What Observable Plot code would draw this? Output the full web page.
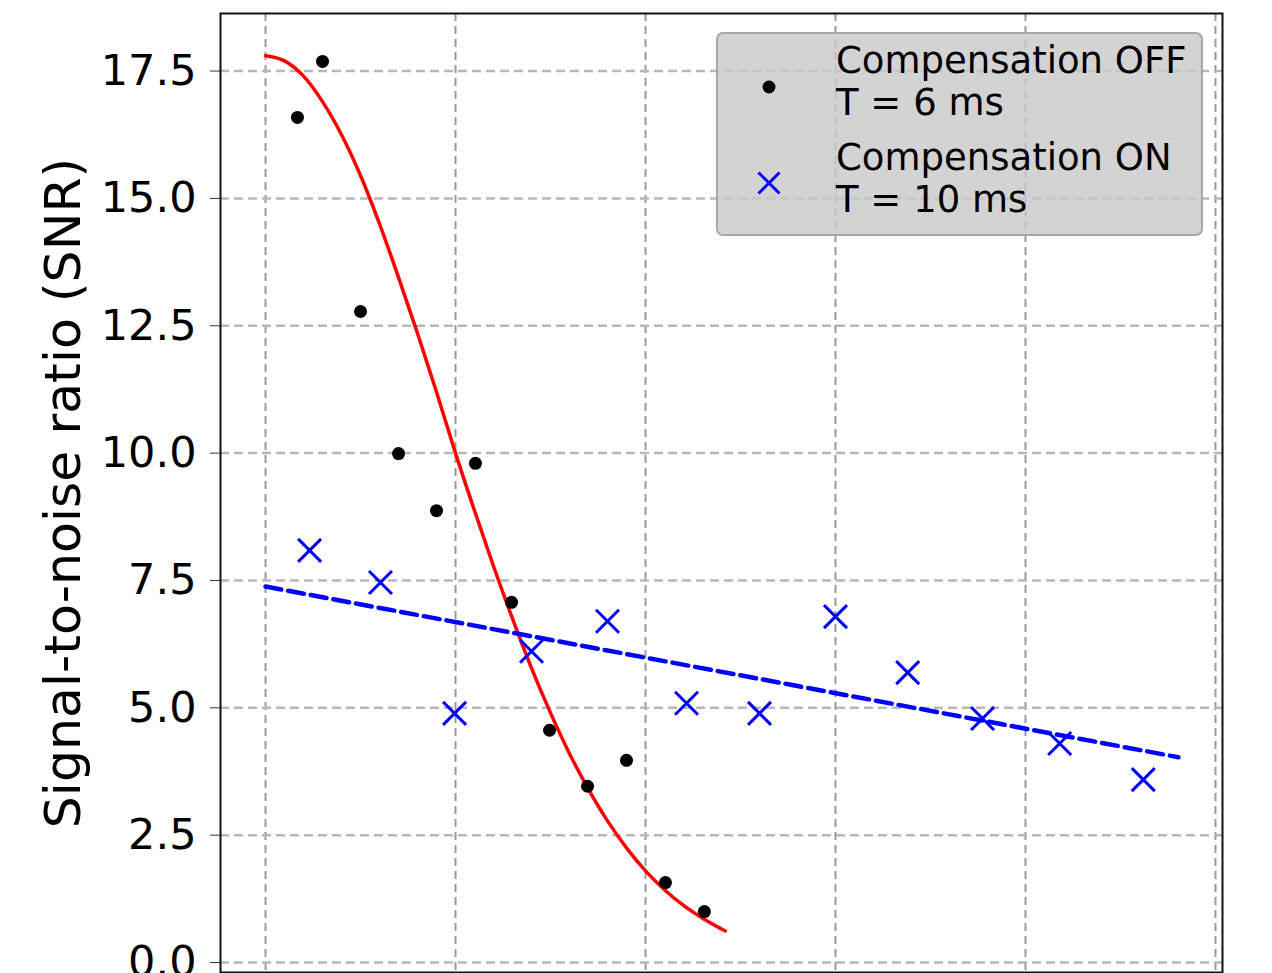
<!DOCTYPE html>
<html><head><meta charset="utf-8">
<script src="https://cdn.jsdelivr.net/npm/d3@7"></script>
<script src="https://cdn.jsdelivr.net/npm/@observablehq/plot@0.6"></script>
<style>
html,body{margin:0;padding:0;background:#fff;overflow:hidden;}
#wrap{position:relative;width:1272px;height:973px;overflow:hidden;}
#wrap svg{display:block;}
.legend{position:absolute;left:716px;top:32px;width:487px;height:204px;box-sizing:border-box;background:rgba(200,200,200,0.8);border:2px solid #a8a8a8;border-radius:7px;font-family:"DejaVu Sans";font-size:37px;color:#000;}
.entry{position:absolute;left:118px;line-height:42px;white-space:nowrap;}
.mk{position:absolute;}
</style></head><body><div id="wrap"></div>
<script>
// Compensation OFF, T = 6 ms (black dots)
const offX = [0.168, 0.3, 0.5, 0.7, 0.9, 1.105, 1.295, 1.495, 1.695, 1.9, 2.105, 2.31];
const offY = [16.59, 17.69, 12.78, 9.99, 8.87, 9.80, 7.07, 4.56, 3.46, 3.97, 1.57, 1.00];
// Compensation ON, T = 10 ms (blue crosses)
const onX = [0.232, 0.605, 0.995, 1.4, 1.8, 2.216, 2.6, 3.0, 3.38, 3.774, 4.18, 4.62];
const onY = [8.09, 7.46, 4.89, 6.11, 6.70, 5.09, 4.89, 6.79, 5.69, 4.79, 4.30, 3.59];
// fitted curve for OFF (red)
const fitOffX = [0, 0.1, 0.2, 0.3, 0.4, 0.5, 0.6, 0.7, 0.8, 0.9, 1.0, 1.1, 1.2, 1.3, 1.4, 1.5, 1.6, 1.7, 1.8, 1.9, 2.0, 2.1, 2.2, 2.3, 2.42];
const fitOffY = [17.8, 17.7, 17.4, 16.9, 16.25, 15.45, 14.5, 13.45, 12.35, 11.2, 10.0, 8.87, 7.78, 6.75, 5.78, 4.9, 4.1, 3.4, 2.78, 2.25, 1.8, 1.43, 1.12, 0.87, 0.62];
// fitted line for ON (blue dashed)
const fitOnX = [0, 4.805];
const fitOnY = [7.38, 4.03];
const yTicks = [0, 2.5, 5, 7.5, 10, 12.5, 15, 17.5];
const xTicks = [0, 1, 2, 3, 4, 5];
const yLabel = "Signal-to-noise ratio (SNR)";
const legendOff = ["Compensation OFF", "T = 6 ms"];
const legendOn = ["Compensation ON", "T = 10 ms"];

const off = offX.map((x, i) => ({x, y: offY[i]}));
const on = onX.map((x, i) => ({x, y: onY[i]}));
const fitOff = fitOffX.map((x, i) => ({x, y: fitOffY[i]}));
const fitOn = fitOnX.map((x, i) => ({x, y: fitOnY[i]}));

const chart = Plot.plot({
  width: 1272, height: 1040,
  marginLeft: 220, marginRight: 50, marginTop: 13, marginBottom: 68,
  style: {fontFamily: "DejaVu Sans", color: "#000", background: "transparent", overflow: "visible"},
  x: {domain: [-0.237, 5.037]},
  y: {domain: [-0.196, 18.63]},
  marks: [
    Plot.gridX(xTicks, {stroke: "#9a9a9a", strokeOpacity: 1, strokeWidth: 2, strokeDasharray: "8,5"}),
    Plot.gridY(yTicks, {stroke: "#b8b8b8", strokeOpacity: 1, strokeWidth: 2.5, strokeDasharray: "9,5"}),
    Plot.axisY(yTicks, {tickSize: 10, tickPadding: 14, tickFormat: d => d.toFixed(1), fontSize: 43, label: null, stroke: "#333"}),
    Plot.axisX(xTicks, {tickSize: 8, tickFormat: () => "", label: null, stroke: "#333"}),
    Plot.text([yLabel], {frameAnchor: "left", rotate: -90, dx: -157, fontSize: 50.5, textAnchor: "middle", lineAnchor: "middle", fill: "#000"}),
    Plot.line(fitOff, {x: "x", y: "y", stroke: "#ff0000", strokeWidth: 3.5, curve: "monotone-x"}),
    Plot.line(fitOn, {x: "x", y: "y", stroke: "#0000ff", strokeWidth: 4.5, strokeDasharray: "16,7"}),
    Plot.dot(off, {x: "x", y: "y", r: 6.5, fill: "#000", stroke: null}),
    Plot.dot(on, {x: "x", y: "y", symbol: "times", r: 10.5, stroke: "#0000ff", strokeWidth: 3}),
    Plot.frame({stroke: "#111", strokeWidth: 2})
  ]
});

const wrap = document.getElementById("wrap");
wrap.appendChild(chart);

const lg = document.createElement("div");
lg.className = "legend";
lg.innerHTML = `
  <svg class="mk" style="left:41px;top:43px" width="20" height="20"><circle cx="10" cy="10" r="6.5" fill="#000"/></svg>
  <div class="entry" style="top:6px">${legendOff[0]}<br>${legendOff[1]}</div>
  <svg class="mk" style="left:37px;top:135px" width="28" height="28"><path d="M3.5,3.5L24.5,24.5M24.5,3.5L3.5,24.5" stroke="#0000ff" stroke-width="3" fill="none"/></svg>
  <div class="entry" style="top:103px">${legendOn[0]}<br>${legendOn[1]}</div>`;
wrap.appendChild(lg);
</script>
</body></html>
